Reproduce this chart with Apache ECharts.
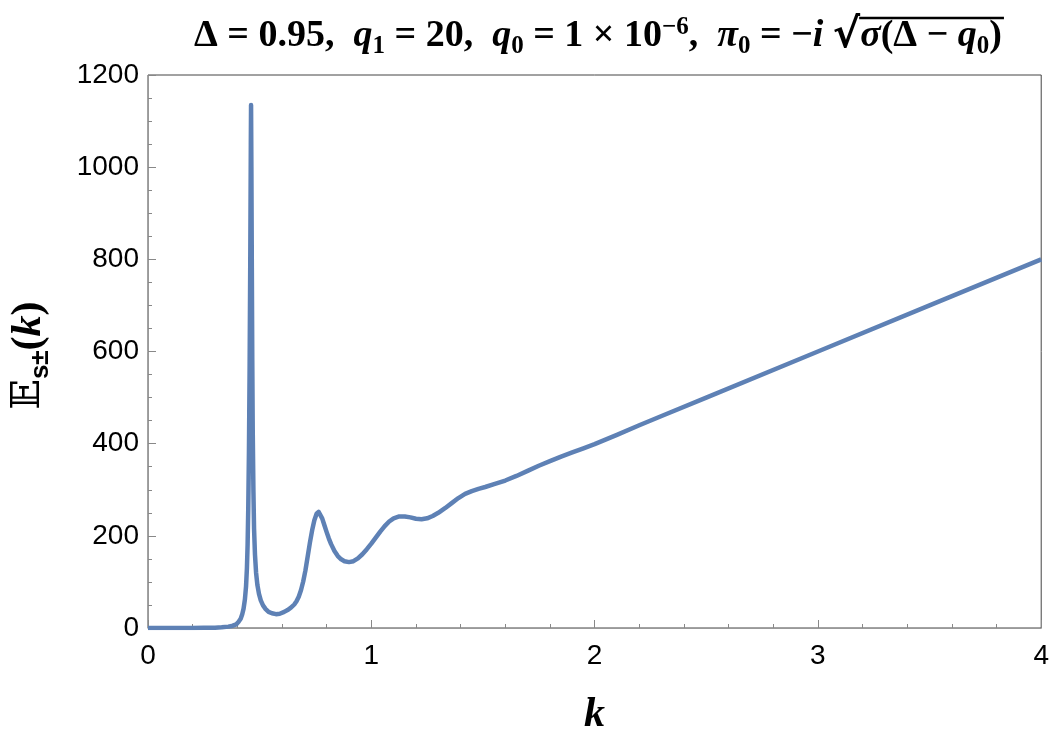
<!DOCTYPE html>
<html>
<head>
<meta charset="utf-8">
<script src="https://cdn.jsdelivr.net/npm/echarts@6/dist/echarts.min.js"></script>
<style>
  html, body { margin: 0; padding: 0; background: #fff; }
  #main { width: 1052px; height: 747px; }
</style>
</head>
<body>
<div id="main"></div>
<script>
// k 值（横轴）
var kValues = [0, 0.1, 0.2, 0.25, 0.3, 0.33, 0.36, 0.38, 0.395, 0.405, 0.415, 0.422, 0.428, 0.434, 0.439,
    0.443, 0.446, 0.449, 0.452, 0.455, 0.458, 0.4605, 0.4615, 0.463, 0.465, 0.467, 0.469, 0.472, 0.475,
    0.479, 0.484, 0.49, 0.497, 0.505, 0.515, 0.527, 0.54, 0.555, 0.573, 0.59, 0.61, 0.625, 0.64, 0.655,
    0.665, 0.675, 0.685, 0.695, 0.705, 0.715, 0.725, 0.735, 0.745, 0.755, 0.764, 0.772, 0.78, 0.79, 0.80,
    0.81, 0.82, 0.835, 0.85, 0.865, 0.88, 0.9, 0.92, 0.94, 0.96, 0.98, 1.0, 1.02, 1.04, 1.06, 1.08, 1.1,
    1.125, 1.15, 1.175, 1.2, 1.225, 1.25, 1.275, 1.3, 1.33, 1.36, 1.39, 1.42, 1.45, 1.48, 1.51, 1.55,
    1.6, 1.65, 1.7, 1.75, 1.8, 1.85, 1.9, 1.95, 2.0, 2.1, 2.2, 2.3, 2.5, 3.0, 3.5, 4.0];
// E_s±(k) 值
var eValues = [0, 0, 0, 0.3, 0.8, 1.5, 3, 5, 8, 13, 20, 30, 42, 62, 90,
    130, 180, 260, 380, 560, 800, 1050, 1135, 1000, 780, 580, 430, 300, 215,
    160, 120, 93, 74, 60, 49, 41, 35, 32, 30, 31, 35, 39, 44, 51,
    58, 68, 82, 101, 125, 155, 185, 212, 234, 248, 252, 248, 238, 223, 208,
    194, 182, 167, 156, 149, 145, 143, 145, 151, 160, 171, 183, 196, 209, 221, 231, 238,
    242, 242, 240, 237, 236, 238, 243, 250, 260, 271, 282, 291, 297, 302, 306, 312,
    320, 330, 341, 352, 362, 372, 381, 390, 399, 419, 440, 460, 500, 600, 700, 800];
// 刻度
var xTicks = [0, 1, 2, 3, 4];
var yTicks = [0, 200, 400, 600, 800, 1000, 1200];

var seriesData = kValues.map(function (k, i) { return [k, eValues[i]]; });

var serif = 'Liberation Serif';

// 标题：富文本片段，根号部分单独处理
var titleRich = {
    n: { fontFamily: serif, fontWeight: 'bold', fontSize: 38, color: '#000', lineHeight: 50 },
    i: { fontFamily: serif, fontWeight: 'bold', fontStyle: 'italic', fontSize: 38, color: '#000', lineHeight: 50 },
    sub: { fontFamily: serif, fontWeight: 'bold', fontSize: 25, color: '#000', lineHeight: 50, verticalAlign: 'bottom', padding: [0, 0, 2, 0] },
    sup: { fontFamily: serif, fontWeight: 'bold', fontSize: 25, color: '#000', lineHeight: 50, verticalAlign: 'top', padding: [4, 0, 0, 0] },
    r: { fontFamily: 'DejaVu Sans', fontWeight: 'bold', fontSize: 41, color: '#000', lineHeight: 50 }
};
var titleTokens = [
    ['n', 'Δ = 0.95,  '], ['i', 'q'], ['sub', '1'], ['n', ' = 20,  '], ['i', 'q'], ['sub', '0'],
    ['n', ' = 1 × 10'], ['sup', '−6'], ['n', ',  '], ['i', 'π'], ['sub', '0'], ['n', ' = −'], ['i', 'i'],
    ['n', ' '], ['r', '√'], ['i', 'σ'], ['n', '(Δ − '], ['i', 'q'], ['sub', '0'], ['n', ')']
];

// 量取文字宽度，用于放置根号横线
var ctx = document.createElement('canvas').getContext('2d');
function tokenWidth(tok) {
    var s = titleRich[tok[0]];
    ctx.font = (s.fontStyle || 'normal') + ' ' + (s.fontWeight || 'normal') + ' ' + s.fontSize + 'px ' + s.fontFamily;
    return ctx.measureText(tok[1]).width;
}
var titleCenter = 598;
var totalW = 0, radEnd = 0;
titleTokens.forEach(function (tok) {
    totalW += tokenWidth(tok);
    if (tok[0] === 'r') radEnd = totalW;
});
var titleStart = titleCenter - totalW / 2;
var titleText = titleTokens.map(function (tok) { return '{' + tok[0] + '|' + tok[1] + '}'; }).join('');

var chart = echarts.init(document.getElementById('main'));
var option = {
    animation: false,
    backgroundColor: '#fff',
    grid: {
        left: 147, top: 75, width: 895, height: 553,
        show: true, borderColor: '#444', borderWidth: 1
    },
    graphic: [{
        type: 'text',
        x: titleCenter, y: 36,
        style: {
            align: 'center', verticalAlign: 'middle',
            text: titleText,
            rich: titleRich
        }
    }, {
        // 根号上横线
        type: 'line',
        shape: { x1: titleStart + radEnd - 1, y1: 18, x2: titleStart + totalW + 2, y2: 18 },
        style: { stroke: '#000', lineWidth: 2.5 }
    }],
    xAxis: {
        type: 'value', min: 0, max: 4, interval: 1,
        name: '{k|k}', nameLocation: 'middle', nameGap: 66,
        nameTextStyle: { rich: { k: { fontFamily: serif, fontWeight: 'bold', fontStyle: 'italic', fontSize: 42, color: '#000' } } },
        axisLine: { show: true, lineStyle: { color: '#999', width: 1 } },
        axisTick: { show: true, inside: true, length: 8, lineStyle: { color: '#888' } },
        minorTick: { show: true, splitNumber: 5, length: 4, lineStyle: { color: '#888' } },
        splitLine: { show: false },
        axisLabel: {
            fontFamily: 'Liberation Sans', fontSize: 28, color: '#000', margin: 14,
            formatter: function (v) { return xTicks.indexOf(v) >= 0 ? String(v) : ''; }
        }
    },
    yAxis: {
        type: 'value', min: 0, max: 1200, interval: 200,
        name: '{e|𝔼}{s|s±}{p|(}{k|k}{p|)}', nameLocation: 'middle', nameGap: 94, nameRotate: 90,
        nameTextStyle: {
            padding: [0, 8, 0, 0],
            rich: {
                e: { fontFamily: 'DejaVu Serif', fontSize: 40, color: '#000', lineHeight: 50 },
                s: { fontFamily: 'Liberation Sans', fontWeight: 'bold', fontSize: 26, color: '#000', lineHeight: 50, verticalAlign: 'bottom' },
                p: { fontFamily: serif, fontWeight: 'bold', fontSize: 42, color: '#000', lineHeight: 50 },
                k: { fontFamily: serif, fontWeight: 'bold', fontStyle: 'italic', fontSize: 42, color: '#000', lineHeight: 50 }
            }
        },
        axisLine: { show: true, lineStyle: { color: '#999', width: 1 } },
        axisTick: { show: true, inside: true, length: 8, lineStyle: { color: '#888' } },
        minorTick: { show: true, splitNumber: 4, length: 4, lineStyle: { color: '#888' } },
        splitLine: { show: false },
        axisLabel: {
            fontFamily: 'Liberation Sans', fontSize: 28, color: '#000', margin: 9,
            formatter: function (v) { return yTicks.indexOf(v) >= 0 ? String(v) : ''; }
        }
    },
    series: [{
        type: 'line',
        data: seriesData,
        showSymbol: false,
        smooth: false,
        lineStyle: { color: '#5E81B5', width: 4.5, join: 'round', cap: 'butt' },
        z: 1
    }]
};
chart.setOption(option);
</script>
</body>
</html>
